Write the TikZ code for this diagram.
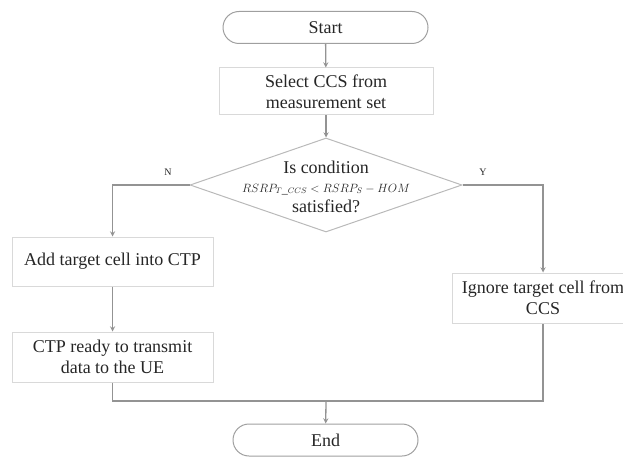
\documentclass[tikz,border=0pt]{standalone}
\usepackage{fontspec}
\setmainfont{Liberation Serif}
\usetikzlibrary{arrows}
\usetikzlibrary{shapes.geometric}

\begin{document}
\begin{tikzpicture}[x=1pt,y=-1pt] % 1pt per pixel, y downwards
	\tikzset{term/.style={draw=gray!75,line width=1pt,rounded corners=16pt,minimum height=32pt,font=\fontsize{18}{21}\selectfont,text=black!85}}
	\tikzset{box/.style={draw=gray!30,line width=1pt,align=center,font=\fontsize{18}{21}\selectfont,text=black!85}}
	\tikzset{decision/.style={draw=gray!55,line width=1pt,diamond,inner sep=0pt,minimum width=272pt,minimum height=94pt}}
	\tikzset{condline/.style={anchor=base,inner sep=0pt,text=black!85,font=\fontsize{18}{21}\selectfont}}
	\tikzset{line/.style={draw=gray!85,line width=1.3pt,-stealth}}
	
	% Page size
	\useasboundingbox (0,0) rectangle (623,457);
	
	% Start and select
	\node[term,minimum width=205pt] (start) at (325.5,27.5) {Start};
	\node[box,minimum width=214pt,minimum height=47pt] (select) at (326,91.5) {Select CCS from\\measurement set};
	
	% Condition
	\node[decision] (cond) at (326,185) {};
	\node[condline] (condtop) at (326,173) {Is condition};
	\node[condline,font=\fontsize{12}{14}\selectfont] (condmid) at (326,192) {$RSRP_{T\_CCS} < RSRP_{S} - HOM$};
	\node[condline] (condbot) at (326,212) {satisfied?};
	\node[font=\fontsize{10}{12}\selectfont,text=black!85] (nlabel) at (168,172) {N};
	\node[font=\fontsize{10}{12}\selectfont,text=black!85] (ylabel) at (483,172) {Y};
	
	% Branches
	\node[box,minimum width=201pt,minimum height=49pt] (add) at (112.5,261.5) {Add target cell into CTP};
	\node[box,minimum width=201pt,minimum height=50pt] (ready) at (112.5,357) {CTP ready to transmit\\data to the UE};
	\node[box,minimum width=182pt,minimum height=50pt] (ignore) at (543,298) {Ignore target cell from\\CCS};
	
	% End
	\node[term,minimum width=185pt] (end) at (325.5,440) {End};
	\coordinate (merge) at (326,401);
	
	% Connectors
	\draw[line] (start) -- (select);
	\draw[line] (select) -- (cond);
	\draw[line] (cond.west) -| (add);
	\draw[line] (add) -- (ready);
	\draw[line] (cond.east) -| (ignore);
	\draw[line,-] (ready) |- (merge) -| (ignore);
	\draw[line] (merge) -- (end);
	
\end{tikzpicture}
\end{document}
